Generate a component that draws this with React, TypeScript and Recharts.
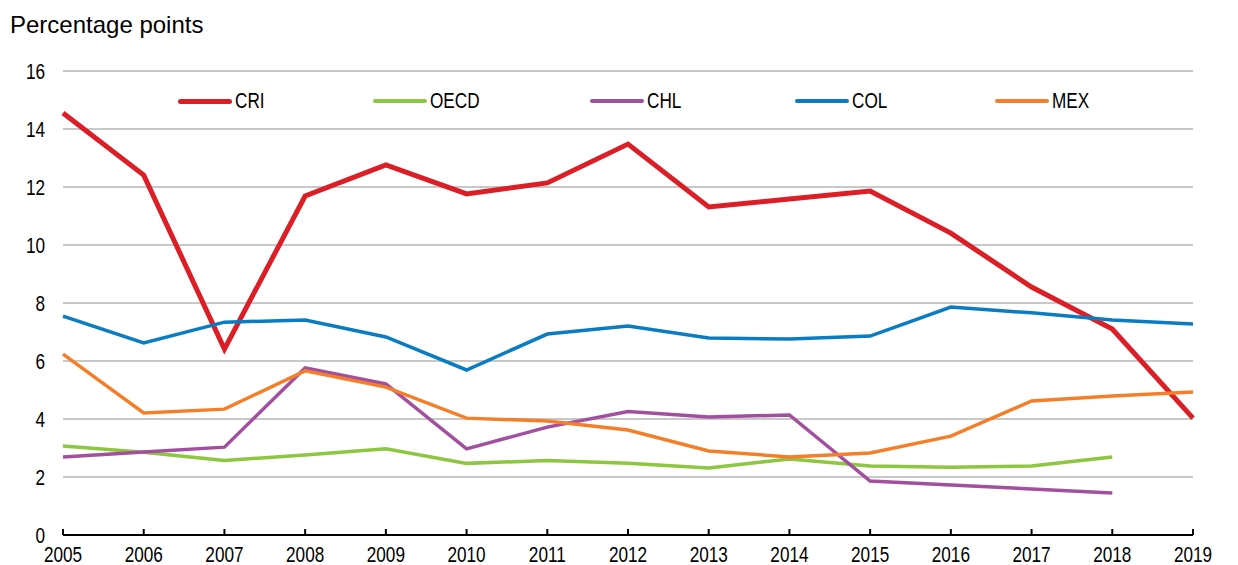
import { LineChart, Line, XAxis, YAxis, CartesianGrid, Legend } from "recharts";

const years = [
  "2005", "2006", "2007", "2008", "2009", "2010", "2011", "2012",
  "2013", "2014", "2015", "2016", "2017", "2018", "2019",
];

const cri = [14.55, 12.41, 6.41, 11.69, 12.76, 11.76, 12.14, 13.48, 11.31, 11.59, 11.86, 10.41, 8.55, 7.1, 4.03];
const oecd = [3.07, 2.85, 2.57, 2.76, 2.97, 2.47, 2.57, 2.47, 2.31, 2.62, 2.38, 2.34, 2.38, 2.69, null];
const chl = [2.69, 2.86, 3.03, 5.76, 5.21, 2.97, 3.72, 4.26, 4.07, 4.14, 1.86, 1.72, 1.59, 1.45, null];
const col = [7.55, 6.62, 7.34, 7.41, 6.83, 5.69, 6.93, 7.21, 6.79, 6.76, 6.86, 7.86, 7.66, 7.41, 7.28];
const mex = [6.24, 4.21, 4.34, 5.66, 5.1, 4.03, 3.93, 3.62, 2.9, 2.69, 2.83, 3.41, 4.62, 4.79, 4.93];

const yTicks = [0, 2, 4, 6, 8, 10, 12, 14, 16];

const series = [
  { key: "CRI", values: cri, color: "#dc1f26", width: 5 },
  { key: "OECD", values: oecd, color: "#8dc63f", width: 3.5 },
  { key: "CHL", values: chl, color: "#a24f9f", width: 3.5 },
  { key: "COL", values: col, color: "#0a7dc2", width: 3.5 },
  { key: "MEX", values: mex, color: "#f47f28", width: 3.5 },
];

const data = years.map((year, i) => {
  const row: any = { year };
  series.forEach((s) => {
    row[s.key] = s.values[i];
  });
  return row;
});

// the source uses a narrow face; squeeze Liberation Sans to match
const FONT = "'Liberation Sans', Arial, sans-serif";
const FONT_SIZE = 22;
const SQUEEZE = 0.78;

// legend slot widths (line start to next line start)
const legendSlots = [195, 217, 205, 200, 120];

function NarrowTick(props: any) {
  const { x, y, payload, textAnchor, verticalAnchor } = props;
  const dy = verticalAnchor === "start" ? "0.71em" : "0.355em";
  return (
    <g transform={`translate(${x},${y})`}>
      <text
        transform={`scale(${SQUEEZE},1)`}
        textAnchor={textAnchor}
        dy={dy}
        fontFamily={FONT}
        fontSize={FONT_SIZE}
        fill="#000"
      >
        {payload.value}
      </text>
    </g>
  );
}

function LegendBox() {
  return (
    <div style={{ display: "flex", alignItems: "center", fontFamily: FONT, fontSize: FONT_SIZE, color: "#000" }}>
      {series.map((s, i) => (
        <div key={s.key} style={{ display: "flex", alignItems: "center", width: legendSlots[i] }}>
          <span
            style={{
              display: "inline-block",
              width: 54,
              height: s.width,
              borderRadius: 3,
              background: s.color,
              marginRight: 3,
            }}
          />
          <span style={{ display: "inline-block", transform: `scaleX(${SQUEEZE})`, transformOrigin: "left center" }}>
            {s.key}
          </span>
        </div>
      ))}
    </div>
  );
}

export default function App() {
  return (
    <div style={{ position: "absolute", left: 0, top: 0, width: 1238, height: 565, background: "#fff" }}>
      <div
        style={{
          position: "absolute",
          left: 10,
          top: 13,
          fontFamily: FONT,
          fontSize: 24,
          lineHeight: "24px",
          color: "#000",
        }}
      >
        Percentage points
      </div>
      <LineChart
        width={1238}
        height={565}
        data={data}
        margin={{ top: 71, right: 0, bottom: 0, left: 18 }}
      >
        <CartesianGrid horizontal vertical={false} stroke="#c8c8c8" strokeWidth={2} yAxisId="left" />
        <XAxis
          dataKey="year"
          height={30}
          interval={0}
          tick={<NarrowTick />}
          tickSize={-6}
          tickMargin={17}
          axisLine={{ stroke: "#000", strokeWidth: 2 }}
          tickLine={{ stroke: "#000", strokeWidth: 2 }}
        />
        <YAxis
          yAxisId="left"
          width={45}
          domain={[0, 16]}
          ticks={yTicks}
          interval={0}
          tick={<NarrowTick />}
          axisLine={false}
          tickLine={false}
          tickSize={6}
          tickMargin={12}
        />
        <YAxis
          yAxisId="right"
          orientation="right"
          width={45}
          domain={[0, 16]}
          ticks={yTicks}
          interval={0}
          tick={<NarrowTick />}
          axisLine={false}
          tickLine={false}
          tickSize={6}
          tickMargin={13}
        />
        <Legend
          layout="horizontal"
          verticalAlign="middle"
          align="center"
          content={() => <LegendBox />}
          wrapperStyle={{ top: 88, left: 178, width: "auto" }}
        />
        {series.map((s) => (
          <Line
            key={s.key}
            yAxisId="left"
            type="linear"
            dataKey={s.key}
            stroke={s.color}
            strokeWidth={s.width}
            dot={false}
            activeDot={false}
            isAnimationActive={false}
          />
        ))}
      </LineChart>
    </div>
  );
}
